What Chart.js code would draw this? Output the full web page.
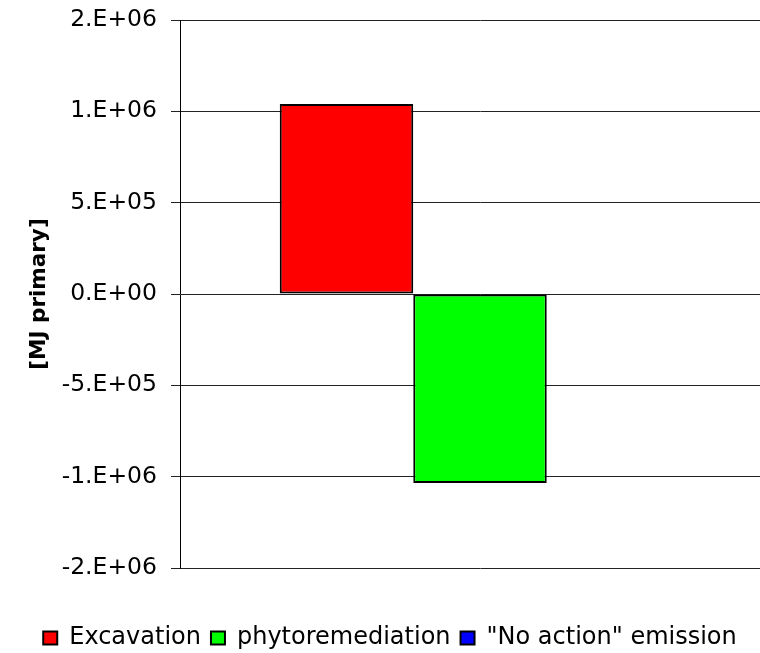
<!DOCTYPE html>
<html>
<head>
<meta charset="utf-8">
<script src="https://cdn.jsdelivr.net/npm/chart.js@4/dist/chart.umd.min.js"></script>
<style>
  html, body { margin: 0; padding: 0; background: #fff; overflow: hidden; }
  #wrap { width: 780px; height: 653px; }
</style>
</head>
<body>
<div id="wrap"><canvas id="c" width="780" height="653"></canvas></div>
<script>
// Primary energy balance per remediation option [MJ primary]
const categories = [''];
const seriesNames = ['Excavation', 'phytoremediation', '"No action" emission'];
const excavation = [1.04e6];
const phytoremediation = [-1.035e6];
const noAction = [0];
const seriesColors = ['#ff0000', '#00ff00', '#0000ff'];

const axisMin = -1.5e6;
const axisMax = 1.5e6;
const axisStep = 5e5;
const axisTitle = '[MJ primary]';

// Spreadsheet-style "0.E+00" number format
function sciLabel(v) {
  const parts = Number(v).toExponential(0).split('e');
  const ex = parseInt(parts[1], 10);
  return parts[0] + '.E' + (ex < 0 ? '-' : '+') + String(Math.abs(ex)).padStart(2, '0');
}

const seriesValues = [excavation, phytoremediation, noAction];
const datasets = seriesNames.map((name, i) => ({
  label: name,
  data: seriesValues[i],
  backgroundColor: seriesColors[i],
  borderColor: '#000',
  borderWidth: 2,
  borderSkipped: false
}));

new Chart(document.getElementById('c'), {
  type: 'bar',
  data: { labels: categories, datasets },
  options: {
    responsive: false,
    devicePixelRatio: 1,
    animation: false,
    layout: { padding: { top: 20, right: 0, bottom: -7, left: 0 } },
    datasets: { bar: { categoryPercentage: 0.6675, barPercentage: 1.0 } },
    plugins: {
      tooltip: { enabled: false },
      legend: {
        position: 'bottom',
        labels: {
          color: '#000',
          font: { family: 'DejaVu Sans', size: 24 },
          boxWidth: 14,
          boxHeight: 13,
          padding: 10
        }
      }
    },
    scales: {
      x: {
        display: true,
        grid: { display: false },
        border: { display: false },
        ticks: { display: false },
        afterFit: s => { s.height = 48; }
      },
      y: {
        min: axisMin,
        max: axisMax,
        afterFit: s => { s.width = 180; s.paddingTop = 0; s.paddingBottom = 0; },
        ticks: {
          stepSize: axisStep,
          color: '#000',
          padding: 14,
          font: { family: 'DejaVu Sans', size: 23.5 },
          callback: v => sciLabel(v)
        },
        grid: { color: '#222', lineWidth: 1, tickLength: 9, tickColor: '#222' },
        border: { display: true, color: '#000', width: 1 },
        title: {
          display: true,
          text: axisTitle,
          color: '#000',
          font: { family: 'DejaVu Sans', size: 21.5, weight: 'bold' },
          padding: { top: 27, bottom: 0 }
        }
      }
    }
  }
});
</script>
</body>
</html>
